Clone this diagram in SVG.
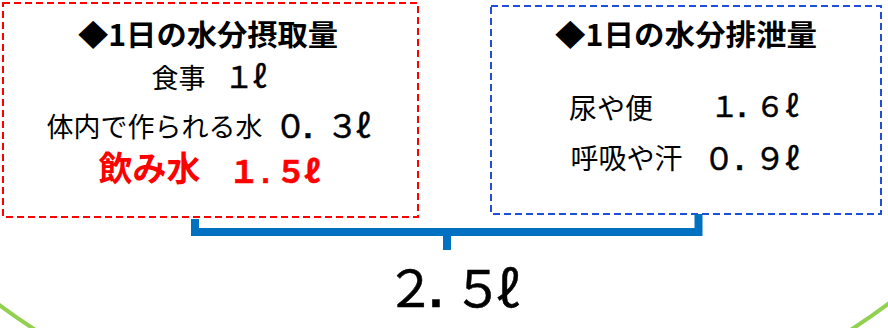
<svg xmlns="http://www.w3.org/2000/svg" width="888" height="328" viewBox="0 0 888 328">
<style>
.t{font-family:"Noto Sans CJK JP","Noto Sans CJK SC",sans-serif;fill:#000}
.d{font-family:"Liberation Sans",Arial,sans-serif;font-weight:bold}
.b{font-weight:bold}
.m{text-anchor:middle}
.red{fill:#FF0000}
.k{stroke:#000;stroke-width:0.5}
.kr{stroke:#FF0000;stroke-width:0.5}
.box{fill:#fff;stroke-width:2;stroke-dasharray:7 4}
</style>
<rect width="888" height="328" fill="#fff"/>
<circle cx="443" cy="-295" r="746" fill="none" stroke="#92D050" stroke-width="4"/>
<g id="intake">
<rect class="box" x="3" y="3" width="415" height="214" stroke="#FF0000"/>
<text class="t b" x="78" y="46" font-size="29" textLength="260" lengthAdjust="spacingAndGlyphs">◆1日の水分摂取量</text>
<text class="t m" x="178.5" y="88" font-size="27">食事</text>
<text class="t m k" y="88" font-size="30"><tspan x="239">１</tspan><tspan x="259.5">ℓ</tspan></text>
<text class="t m" x="154.5" y="137" font-size="27">体内で作られる水</text>
<text class="t m k" y="138" font-size="32"><tspan x="290.5">０</tspan><tspan class="d" x="308">.</tspan><tspan x="342.5">３</tspan><tspan x="363">ℓ</tspan></text>
<text class="t b m red" x="149.5" y="181" font-size="34">飲み水</text>
<text class="t b m red kr" y="183" font-size="31"><tspan x="244">１</tspan><tspan class="d" x="265.5">.</tspan><tspan x="291">５</tspan><tspan x="312">ℓ</tspan></text>
</g>
<g id="output">
<rect class="box" x="491" y="6" width="390" height="208" stroke="#1F4FD8"/>
<text class="t b" x="555" y="46" font-size="29" textLength="262" lengthAdjust="spacingAndGlyphs">◆1日の水分排泄量</text>
<text class="t m" x="611" y="119" font-size="28">尿や便</text>
<text class="t m k" y="117" font-size="29"><tspan x="724.5">１</tspan><tspan class="d" x="742">.</tspan><tspan x="770">６</tspan><tspan x="792">ℓ</tspan></text>
<text class="t m" x="626.5" y="169" font-size="28">呼吸や汗</text>
<text class="t m k" y="170" font-size="31"><tspan x="719">０</tspan><tspan class="d" x="739.5">.</tspan><tspan x="770">９</tspan><tspan x="792">ℓ</tspan></text>
</g>
<g id="connectors" fill="none" stroke="#0070C0" stroke-width="8" stroke-linejoin="miter">
<path d="M195,219 V232 H698.5 V214"/>
<path d="M447,232 V250"/>
</g>
<g id="total">
<text class="t m k" y="307" font-size="50"><tspan x="410.5">２</tspan><tspan class="d" x="436">.</tspan><tspan x="478">５</tspan><tspan x="508">ℓ</tspan></text>
</g>
</svg>
